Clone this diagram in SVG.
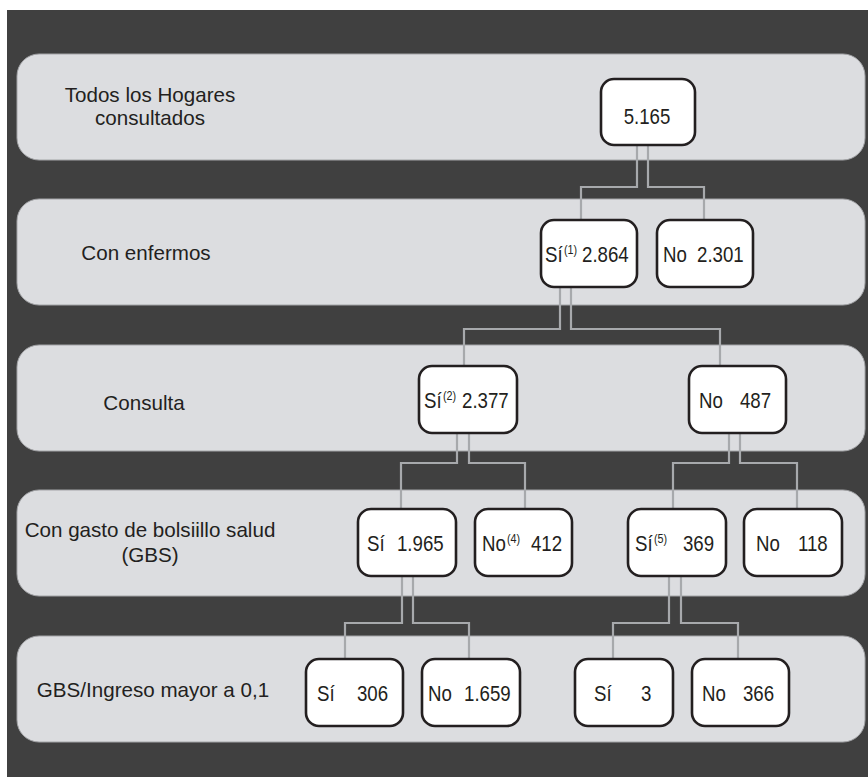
<svg xmlns="http://www.w3.org/2000/svg" width="868" height="777" viewBox="0 0 868 777">
<style>
.bg{fill:#404040}
.band{fill:#dcdde0;stroke:#a3a4a7;stroke-width:1}
.box{fill:#ffffff;stroke:#231f20;stroke-width:2.6}
.conn{fill:none;stroke:#a7a9ac;stroke-width:2.2}
.lbl{font-family:"Liberation Sans",Arial,sans-serif;font-size:20.6px;fill:#231f20;text-anchor:middle}
.n{font-family:"Liberation Sans",Arial,sans-serif;font-size:22.5px;fill:#231f20}
.s{font-size:13px}
</style>
<rect width="868" height="777" fill="#ffffff"/>
<rect class="bg" x="7" y="10" width="861" height="767"/>
<g id="bands">
<rect class="band" x="17" y="54" width="848" height="106" rx="22"/>
<rect class="band" x="17" y="199" width="848" height="106" rx="22"/>
<rect class="band" x="17" y="345" width="848" height="106" rx="22"/>
<rect class="band" x="17" y="490" width="848" height="106" rx="22"/>
<rect class="band" x="17" y="636" width="848" height="106" rx="22"/>
</g>
<g id="labels">
<text class="lbl" x="150" y="102">Todos los Hogares</text>
<text class="lbl" x="150" y="125">consultados</text>
<text class="lbl" x="146" y="260">Con enfermos</text>
<text class="lbl" x="144" y="410">Consulta</text>
<text class="lbl" x="150" y="537">Con gasto de bolsiillo salud</text>
<text class="lbl" x="150" y="562">(GBS)</text>
<text class="lbl" x="153" y="697">GBS/Ingreso mayor a 0,1</text>
</g>
<g id="connectors">
<path class="conn" d="M637,145 V187 H581 V220"/>
<path class="conn" d="M648,145 V187 H704 V220"/>
<path class="conn" d="M560,287 V329 H464 V366"/>
<path class="conn" d="M571,287 V329 H720 V366"/>
<path class="conn" d="M457,433 V463 H401 V509"/>
<path class="conn" d="M469,433 V463 H525 V509"/>
<path class="conn" d="M729,433 V463 H673 V509"/>
<path class="conn" d="M740,433 V463 H797 V509"/>
<path class="conn" d="M402,576 V623 H345 V659"/>
<path class="conn" d="M413,576 V623 H469 V659"/>
<path class="conn" d="M669,576 V623 H613 V659"/>
<path class="conn" d="M681,576 V623 H738 V659"/>
</g>
<g id="n_total">
<rect class="box" x="601" y="79" width="94" height="66" rx="13"/>
<text class="n" transform="matrix(0.83 0 0 1 647 124)" text-anchor="middle">5.165</text>
</g>
<g id="n_enf_si">
<rect class="box" x="541" y="220" width="96" height="67" rx="13"/>
<text class="n" transform="matrix(0.83 0 0 1 545 262)"><tspan x="0">Sí</tspan><tspan class="s" x="22.9" y="-8">(1)</tspan><tspan x="44.6" y="0">2.864</tspan></text>
</g>
<g id="n_enf_no">
<rect class="box" x="657" y="220" width="96" height="67" rx="13"/>
<text class="n" transform="matrix(0.83 0 0 1 663 262)"><tspan x="0">No</tspan><tspan x="41">2.301</tspan></text>
</g>
<g id="n_cons_si">
<rect class="box" x="419" y="366" width="98" height="67" rx="13"/>
<text class="n" transform="matrix(0.83 0 0 1 424 408)"><tspan x="0">Sí</tspan><tspan class="s" x="22.9" y="-8">(2)</tspan><tspan x="45.8" y="0">2.377</tspan></text>
</g>
<g id="n_cons_no">
<rect class="box" x="689" y="366" width="97" height="67" rx="13"/>
<text class="n" transform="matrix(0.83 0 0 1 699 408)"><tspan x="0">No</tspan><tspan x="49.4">487</tspan></text>
</g>
<g id="n_gbs_si_a">
<rect class="box" x="358" y="509" width="98" height="67" rx="13"/>
<text class="n" transform="matrix(0.83 0 0 1 367 551)"><tspan x="0">Sí</tspan><tspan x="36.1">1.965</tspan></text>
</g>
<g id="n_gbs_no_a">
<rect class="box" x="475" y="509" width="97" height="67" rx="13"/>
<text class="n" transform="matrix(0.83 0 0 1 482 551)"><tspan x="0">No</tspan><tspan class="s" x="30.1" y="-8">(4)</tspan><tspan x="59" y="0">412</tspan></text>
</g>
<g id="n_gbs_si_b">
<rect class="box" x="628" y="509" width="98" height="67" rx="13"/>
<text class="n" transform="matrix(0.83 0 0 1 635 551)"><tspan x="0">Sí</tspan><tspan class="s" x="22.9" y="-8">(5)</tspan><tspan x="57.8" y="0">369</tspan></text>
</g>
<g id="n_gbs_no_b">
<rect class="box" x="744" y="509" width="98" height="67" rx="13"/>
<text class="n" transform="matrix(0.83 0 0 1 756 551)"><tspan x="0">No</tspan><tspan x="50.6">118</tspan></text>
</g>
<g id="n_ing_si_a">
<rect class="box" x="306" y="659" width="97" height="67" rx="13"/>
<text class="n" transform="matrix(0.83 0 0 1 317 701)"><tspan x="0">Sí</tspan><tspan x="48.2">306</tspan></text>
</g>
<g id="n_ing_no_a">
<rect class="box" x="422" y="659" width="98" height="67" rx="13"/>
<text class="n" transform="matrix(0.83 0 0 1 428 701)"><tspan x="0">No</tspan><tspan x="43.4">1.659</tspan></text>
</g>
<g id="n_ing_si_b">
<rect class="box" x="575" y="659" width="98" height="67" rx="13"/>
<text class="n" transform="matrix(0.83 0 0 1 594 701)"><tspan x="0">Sí</tspan><tspan x="56.6">3</tspan></text>
</g>
<g id="n_ing_no_b">
<rect class="box" x="692" y="659" width="97" height="67" rx="13"/>
<text class="n" transform="matrix(0.83 0 0 1 702 701)"><tspan x="0">No</tspan><tspan x="49.4">366</tspan></text>
</g>
</svg>
